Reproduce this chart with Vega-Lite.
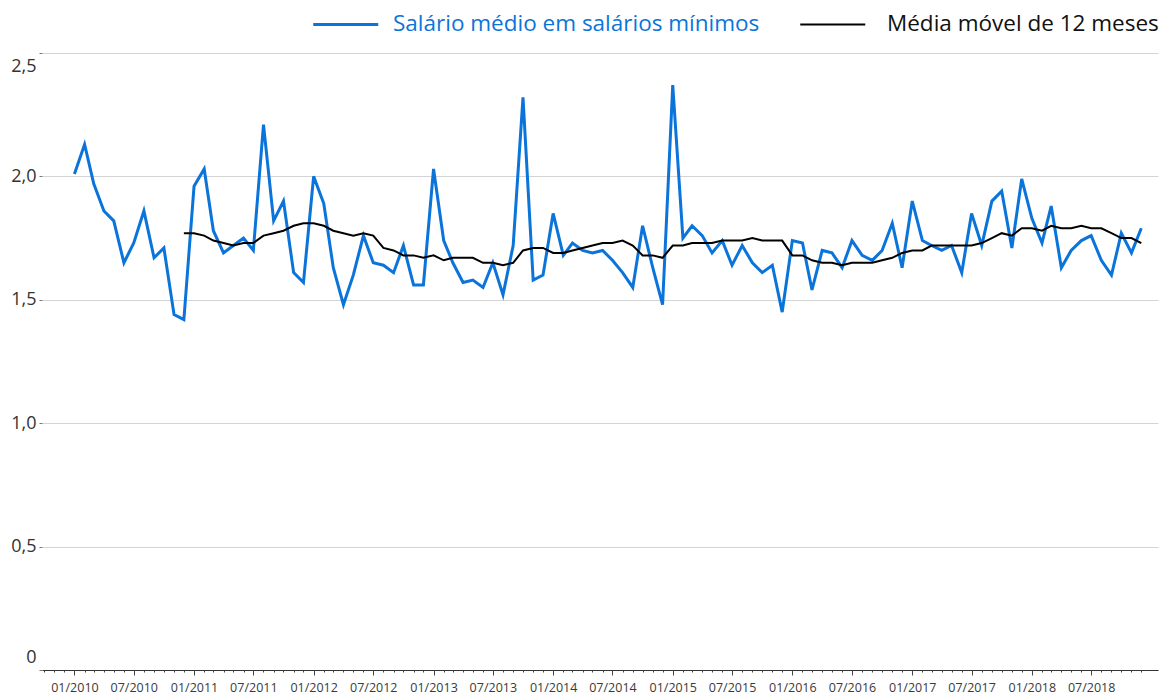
{
  "$schema": "https://vega.github.io/schema/vega-lite/v6.json",
  "width": 1116,
  "height": 617,
  "autosize": {"type": "none"},
  "padding": {"left": 42, "top": 53, "right": 5, "bottom": 25},
  "background": "white",
  "config": {"view": {"stroke": null}, "font": "Open Sans"},
  "data": {"values": [
    {"mes": "2010-01-01", "salario": 2.01, "media": null},
    {"mes": "2010-02-01", "salario": 2.13, "media": null},
    {"mes": "2010-03-01", "salario": 1.97, "media": null},
    {"mes": "2010-04-01", "salario": 1.86, "media": null},
    {"mes": "2010-05-01", "salario": 1.82, "media": null},
    {"mes": "2010-06-01", "salario": 1.65, "media": null},
    {"mes": "2010-07-01", "salario": 1.73, "media": null},
    {"mes": "2010-08-01", "salario": 1.86, "media": null},
    {"mes": "2010-09-01", "salario": 1.67, "media": null},
    {"mes": "2010-10-01", "salario": 1.71, "media": null},
    {"mes": "2010-11-01", "salario": 1.44, "media": null},
    {"mes": "2010-12-01", "salario": 1.42, "media": 1.77},
    {"mes": "2011-01-01", "salario": 1.96, "media": 1.77},
    {"mes": "2011-02-01", "salario": 2.03, "media": 1.76},
    {"mes": "2011-03-01", "salario": 1.78, "media": 1.74},
    {"mes": "2011-04-01", "salario": 1.69, "media": 1.73},
    {"mes": "2011-05-01", "salario": 1.72, "media": 1.72},
    {"mes": "2011-06-01", "salario": 1.75, "media": 1.73},
    {"mes": "2011-07-01", "salario": 1.70, "media": 1.73},
    {"mes": "2011-08-01", "salario": 2.21, "media": 1.76},
    {"mes": "2011-09-01", "salario": 1.82, "media": 1.77},
    {"mes": "2011-10-01", "salario": 1.90, "media": 1.78},
    {"mes": "2011-11-01", "salario": 1.61, "media": 1.80},
    {"mes": "2011-12-01", "salario": 1.57, "media": 1.81},
    {"mes": "2012-01-01", "salario": 2.00, "media": 1.81},
    {"mes": "2012-02-01", "salario": 1.89, "media": 1.80},
    {"mes": "2012-03-01", "salario": 1.63, "media": 1.78},
    {"mes": "2012-04-01", "salario": 1.48, "media": 1.77},
    {"mes": "2012-05-01", "salario": 1.60, "media": 1.76},
    {"mes": "2012-06-01", "salario": 1.76, "media": 1.77},
    {"mes": "2012-07-01", "salario": 1.65, "media": 1.76},
    {"mes": "2012-08-01", "salario": 1.64, "media": 1.71},
    {"mes": "2012-09-01", "salario": 1.61, "media": 1.70},
    {"mes": "2012-10-01", "salario": 1.72, "media": 1.68},
    {"mes": "2012-11-01", "salario": 1.56, "media": 1.68},
    {"mes": "2012-12-01", "salario": 1.56, "media": 1.67},
    {"mes": "2013-01-01", "salario": 2.03, "media": 1.68},
    {"mes": "2013-02-01", "salario": 1.74, "media": 1.66},
    {"mes": "2013-03-01", "salario": 1.65, "media": 1.67},
    {"mes": "2013-04-01", "salario": 1.57, "media": 1.67},
    {"mes": "2013-05-01", "salario": 1.58, "media": 1.67},
    {"mes": "2013-06-01", "salario": 1.55, "media": 1.65},
    {"mes": "2013-07-01", "salario": 1.65, "media": 1.65},
    {"mes": "2013-08-01", "salario": 1.52, "media": 1.64},
    {"mes": "2013-09-01", "salario": 1.72, "media": 1.65},
    {"mes": "2013-10-01", "salario": 2.32, "media": 1.70},
    {"mes": "2013-11-01", "salario": 1.58, "media": 1.71},
    {"mes": "2013-12-01", "salario": 1.60, "media": 1.71},
    {"mes": "2014-01-01", "salario": 1.85, "media": 1.69},
    {"mes": "2014-02-01", "salario": 1.68, "media": 1.69},
    {"mes": "2014-03-01", "salario": 1.73, "media": 1.70},
    {"mes": "2014-04-01", "salario": 1.70, "media": 1.71},
    {"mes": "2014-05-01", "salario": 1.69, "media": 1.72},
    {"mes": "2014-06-01", "salario": 1.70, "media": 1.73},
    {"mes": "2014-07-01", "salario": 1.66, "media": 1.73},
    {"mes": "2014-08-01", "salario": 1.61, "media": 1.74},
    {"mes": "2014-09-01", "salario": 1.55, "media": 1.72},
    {"mes": "2014-10-01", "salario": 1.80, "media": 1.68},
    {"mes": "2014-11-01", "salario": 1.63, "media": 1.68},
    {"mes": "2014-12-01", "salario": 1.48, "media": 1.67},
    {"mes": "2015-01-01", "salario": 2.37, "media": 1.72},
    {"mes": "2015-02-01", "salario": 1.75, "media": 1.72},
    {"mes": "2015-03-01", "salario": 1.80, "media": 1.73},
    {"mes": "2015-04-01", "salario": 1.76, "media": 1.73},
    {"mes": "2015-05-01", "salario": 1.69, "media": 1.73},
    {"mes": "2015-06-01", "salario": 1.74, "media": 1.74},
    {"mes": "2015-07-01", "salario": 1.64, "media": 1.74},
    {"mes": "2015-08-01", "salario": 1.72, "media": 1.74},
    {"mes": "2015-09-01", "salario": 1.65, "media": 1.75},
    {"mes": "2015-10-01", "salario": 1.61, "media": 1.74},
    {"mes": "2015-11-01", "salario": 1.64, "media": 1.74},
    {"mes": "2015-12-01", "salario": 1.45, "media": 1.74},
    {"mes": "2016-01-01", "salario": 1.74, "media": 1.68},
    {"mes": "2016-02-01", "salario": 1.73, "media": 1.68},
    {"mes": "2016-03-01", "salario": 1.54, "media": 1.66},
    {"mes": "2016-04-01", "salario": 1.70, "media": 1.65},
    {"mes": "2016-05-01", "salario": 1.69, "media": 1.65},
    {"mes": "2016-06-01", "salario": 1.63, "media": 1.64},
    {"mes": "2016-07-01", "salario": 1.74, "media": 1.65},
    {"mes": "2016-08-01", "salario": 1.68, "media": 1.65},
    {"mes": "2016-09-01", "salario": 1.66, "media": 1.65},
    {"mes": "2016-10-01", "salario": 1.70, "media": 1.66},
    {"mes": "2016-11-01", "salario": 1.81, "media": 1.67},
    {"mes": "2016-12-01", "salario": 1.63, "media": 1.69},
    {"mes": "2017-01-01", "salario": 1.90, "media": 1.70},
    {"mes": "2017-02-01", "salario": 1.74, "media": 1.70},
    {"mes": "2017-03-01", "salario": 1.72, "media": 1.72},
    {"mes": "2017-04-01", "salario": 1.70, "media": 1.72},
    {"mes": "2017-05-01", "salario": 1.72, "media": 1.72},
    {"mes": "2017-06-01", "salario": 1.61, "media": 1.72},
    {"mes": "2017-07-01", "salario": 1.85, "media": 1.72},
    {"mes": "2017-08-01", "salario": 1.72, "media": 1.73},
    {"mes": "2017-09-01", "salario": 1.90, "media": 1.75},
    {"mes": "2017-10-01", "salario": 1.94, "media": 1.77},
    {"mes": "2017-11-01", "salario": 1.71, "media": 1.76},
    {"mes": "2017-12-01", "salario": 1.99, "media": 1.79},
    {"mes": "2018-01-01", "salario": 1.83, "media": 1.79},
    {"mes": "2018-02-01", "salario": 1.73, "media": 1.78},
    {"mes": "2018-03-01", "salario": 1.88, "media": 1.80},
    {"mes": "2018-04-01", "salario": 1.63, "media": 1.79},
    {"mes": "2018-05-01", "salario": 1.70, "media": 1.79},
    {"mes": "2018-06-01", "salario": 1.74, "media": 1.80},
    {"mes": "2018-07-01", "salario": 1.76, "media": 1.79},
    {"mes": "2018-08-01", "salario": 1.66, "media": 1.79},
    {"mes": "2018-09-01", "salario": 1.60, "media": 1.77},
    {"mes": "2018-10-01", "salario": 1.77, "media": 1.75},
    {"mes": "2018-11-01", "salario": 1.69, "media": 1.75},
    {"mes": "2018-12-01", "salario": 1.79, "media": 1.73}
  ]},
  "layer": [
    {
      "mark": {"type": "line", "strokeWidth": 3},
      "encoding": {
        "x": {
          "field": "mes", "type": "temporal",
          "scale": {"type": "utc", "nice": false, "domain": [{"year": 2009, "month": 9, "date": 24, "utc": true}, {"year": 2019, "month": 1, "date": 21, "utc": true}]},
          "axis": {"orient": "bottom", "title": null, "grid": false, "tickCount": {"interval": "month", "step": 6}, "labelExpr": "datum.value >= 1546300800000 ? '' : utcFormat(datum.value, '%m/%Y')", "tickOpacity": {"condition": {"test": "datum.value >= 1546300800000", "value": 0}, "value": 1}, "labelFontSize": 12.5, "labelColor": "#3a3a3a", "labelPadding": 6, "tickSize": 5, "tickColor": "#444", "domainColor": "#333", "labelOverlap": false, "labelFlush": false}
        },
        "y": {
          "field": "salario", "type": "quantitative",
          "scale": {"domain": [0, 2.5], "nice": false},
          "axis": {"title": null, "values": [0, 0.5, 1, 1.5, 2, 2.5], "labelExpr": "datum.value === 0 ? '0' : replace(format(datum.value, '.1f'), '.', ',')", "domain": false, "tickSize": 3, "tickColor": "#777", "gridColor": "#d4d4d4", "labelFontSize": 18, "labelColor": "#333", "labelPadding": 3, "labelFlush": true, "labelFlushOffset": -4}
        },
        "color": {
          "datum": "salario", "type": "nominal",
          "scale": {"domain": ["salario", "media"], "range": ["#0b74da", "#000000"]},
          "legend": {"orient": "none", "legendX": 270, "legendY": -40, "direction": "horizontal", "title": null, "symbolType": "stroke", "symbolSize": 4225, "symbolStrokeWidth": 3, "symbolOffset": 22.5, "labelFontSize": 22.5, "labelOffset": 36, "columnPadding": 36, "labelLimit": 500, "padding": 0,
            "labelExpr": "datum.value === 'salario' ? 'Salário médio em salários mínimos' : 'Média móvel de 12 meses'",
            "encode": {"labels": {"update": {"fill": {"signal": "datum.value === 'salario' ? '#0b74da' : '#111111'"}, "dx": {"signal": "datum.value === 'salario' ? 0 : 7"}}}, "symbols": {"update": {"strokeWidth": {"signal": "datum.value === 'salario' ? 3 : 2"}}}}}
        }
      }
    },
    {
      "mark": {"type": "line", "strokeWidth": 2},
      "encoding": {
        "x": {
          "field": "mes", "type": "temporal",
          "scale": {"type": "utc", "nice": false, "domain": [{"year": 2009, "month": 9, "date": 24, "utc": true}, {"year": 2019, "month": 1, "date": 21, "utc": true}]},
          "axis": {"orient": "bottom", "title": null, "grid": false, "labels": false, "domain": false, "tickCount": {"interval": "month", "step": 1}, "tickOpacity": {"condition": {"test": "datum.value >= 1546300800000", "value": 0}, "value": 1}, "tickSize": 2, "tickColor": "#444"}
        },
        "y": {"field": "media", "type": "quantitative"},
        "color": {"datum": "media", "type": "nominal"}
      }
    }
  ],
  "resolve": {"axis": {"x": "independent"}}
}
